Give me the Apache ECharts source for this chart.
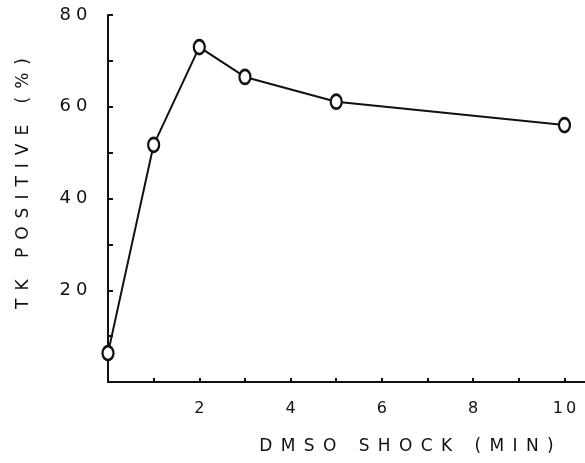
<!DOCTYPE html>
<html>
<head>
<meta charset="utf-8">
<script src="https://cdn.jsdelivr.net/npm/echarts@6/dist/echarts.min.js"></script>
<style>html,body{margin:0;padding:0;background:#fff;}#c{width:585px;height:463px;}</style>
</head>
<body>
<div id="c"></div>
<script>
const xValues = [0, 1, 2, 3, 5, 10];
const yValues = [6.3, 51.7, 73.0, 66.5, 61.1, 56.0];
const xTickLabels = [2, 4, 6, 8, 10];
const yTickLabels = [20, 40, 60, 80];
const xTitle = 'DMSO SHOCK (MIN)';
const yTitle = 'TK POSITIVE (%)';

function spaced(str, key) {
  return str.split('').map(ch => '{' + key + '|' + ch + '}').join('');
}

const ink = '#111';
const chart = echarts.init(document.getElementById('c'));
chart.setOption({
  animation: false,
  backgroundColor: '#fff',
  grid: { left: 108, right: 0, top: 15, bottom: 81 },
  xAxis: {
    type: 'value', min: 0, max: 10.45, interval: 1,
    splitLine: { show: false },
    axisLine: { lineStyle: { color: ink, width: 2 } },
    axisTick: { inside: true, length: 4, lineStyle: { color: ink, width: 2 } },
    axisLabel: {
      margin: 19,
      showMaxLabel: false,
      formatter: v => xTickLabels.indexOf(v) >= 0 ? spaced(String(v), 't') : '',
      rich: { t: { fontFamily: 'DejaVu Sans', fontSize: 16, color: ink, padding: [0, 1.5, 0, 1.5] } }
    },
    name: spaced(xTitle, 'n'),
    nameLocation: 'middle',
    nameGap: 56,
    nameTextStyle: {
      padding: [0, 0, 0, 120],
      rich: { n: { fontFamily: 'DejaVu Sans', fontSize: 17, color: ink, padding: [0, 4.2, 0, 4.2] } }
    }
  },
  yAxis: {
    type: 'value', min: 0, max: 80, interval: 10,
    splitLine: { show: false },
    axisLine: { lineStyle: { color: ink, width: 2 } },
    axisTick: { inside: true, length: 5, lineStyle: { color: ink, width: 2 } },
    axisLabel: {
      margin: 18,
      formatter: v => yTickLabels.indexOf(v) >= 0 ? spaced(String(v), 't') : '',
      rich: { t: { fontFamily: 'DejaVu Sans', fontSize: 18, color: ink, padding: [0, 2.5, 0, 2.5] } }
    },
    name: spaced(yTitle, 'n'),
    nameLocation: 'middle',
    nameRotate: 90,
    nameGap: 76,
    nameTextStyle: {
      padding: [0, 0, 0, 30],
      rich: { n: { fontFamily: 'DejaVu Sans', fontSize: 17, color: ink, padding: [0, 4, 0, 4] } }
    }
  },
  series: [{
    type: 'line',
    data: xValues.map((x, i) => [x, yValues[i]]),
    symbol: 'circle',
    symbolSize: [11, 14],
    lineStyle: { color: ink, width: 2 },
    itemStyle: { color: '#fff', borderColor: ink, borderWidth: 2.5 },
    clip: false
  }]
});
</script>
</body>
</html>
